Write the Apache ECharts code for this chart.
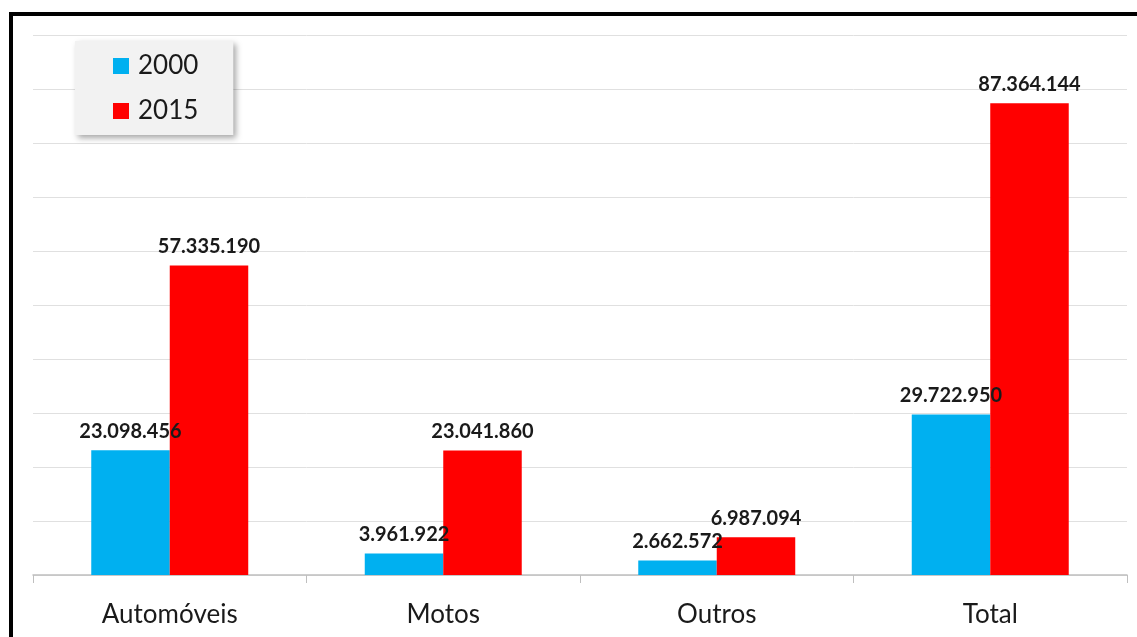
<!DOCTYPE html>
<html>
<head>
<meta charset="utf-8">
<script src="https://cdn.jsdelivr.net/npm/echarts@6/dist/echarts.min.js"></script>
<style>
  html, body { margin: 0; padding: 0; background: #ffffff; }
  #chart { width: 1137px; height: 637px; }
</style>
</head>
<body>
<div id="chart"></div>
<script>
// Vehicle fleet by type, 2000 vs 2015
const categories = ['Automóveis', 'Motos', 'Outros', 'Total'];
const seriesNames = ['2000', '2015'];
const values2000 = [23098456, 3961922, 2662572, 29722950];
const values2015 = [57335190, 23041860, 6987094, 87364144];
const seriesColors = ['#00b0f0', '#ff0000'];

// Brazilian style thousands separator: 23.098.456
function fmt(v) {
  return String(v).replace(/\B(?=(\d{3})+(?!\d))/g, '.');
}

const chart = echarts.init(document.getElementById('chart'), null, { renderer: 'canvas' });

const labelStyle = {
  show: true,
  position: 'top',
  distance: 9,
  fontFamily: 'Lato',
  fontWeight: 'bold',
  fontSize: 20,
  color: '#1a1a1a',
  formatter: p => fmt(p.value)
};

chart.setOption({
  animation: false,
  backgroundColor: '#ffffff',
  graphic: [
    // black frame along the top and left edges
    { type: 'rect', left: 9, top: 12, shape: { width: 1128, height: 4 }, style: { fill: '#000' }, z: 100 },
    { type: 'rect', left: 9, top: 12, shape: { width: 4, height: 625 }, style: { fill: '#000' }, z: 100 }
  ],
  legend: {
    left: 75,
    top: 41,
    orient: 'vertical',
    backgroundColor: '#f2f2f2',
    padding: [12, 35, 11, 38],
    itemGap: 19,
    itemWidth: 16,
    itemHeight: 16,
    icon: 'rect',
    shadowColor: 'rgba(0,0,0,0.35)',
    shadowBlur: 6,
    shadowOffsetX: 3,
    shadowOffsetY: 3,
    textStyle: { fontFamily: 'Lato', fontSize: 26, color: '#1a1a1a', padding: [0, 0, 0, 4] },
    data: seriesNames
  },
  grid: { left: 33, right: 10, top: 35, bottom: 62, containLabel: false },
  xAxis: {
    type: 'category',
    data: categories,
    axisLine: { lineStyle: { color: '#bfbfbf', width: 1.5 } },
    axisTick: { show: true, length: 8, lineStyle: { color: '#bfbfbf' } },
    axisLabel: { fontFamily: 'Lato', fontSize: 26, color: '#1a1a1a', margin: 27 }
  },
  yAxis: {
    type: 'value',
    min: 0,
    max: 100000000,
    interval: 10000000,
    axisLine: { show: false },
    axisTick: { show: false },
    axisLabel: { show: false },
    splitLine: { lineStyle: { color: '#e0e0e0', width: 1 } }
  },
  series: [
    {
      name: seriesNames[0],
      type: 'bar',
      data: values2000,
      itemStyle: { color: seriesColors[0] },
      barGap: '0%',
      barCategoryGap: '42.6%',
      label: labelStyle,
      z: 2
    },
    {
      name: seriesNames[1],
      type: 'bar',
      data: values2015,
      itemStyle: { color: seriesColors[1] },
      barGap: '0%',
      barCategoryGap: '42.6%',
      label: labelStyle,
      z: 2
    }
  ]
});
</script>
</body>
</html>
